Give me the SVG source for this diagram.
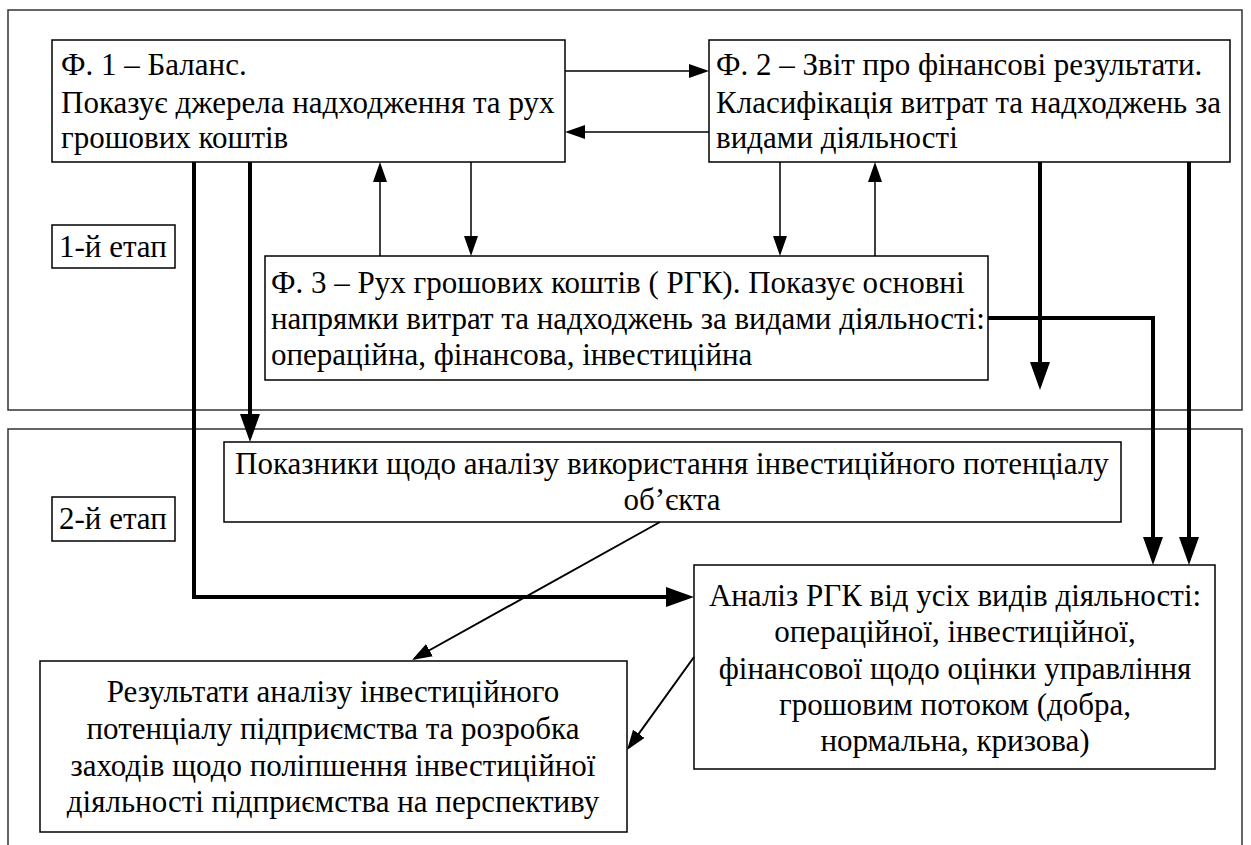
<svg xmlns="http://www.w3.org/2000/svg" width="1251" height="845" viewBox="0 0 1251 845">
<style>
text{font-family:'Liberation Serif','Times New Roman',serif;font-size:31px;fill:#000}
.c{text-anchor:middle}
.box{fill:#fff;stroke:#000;stroke-width:1.5}
.frame{fill:none;stroke:#333;stroke-width:1.5}
.thin{fill:none;stroke:#000;stroke-width:1.5}
.diag{fill:none;stroke:#000;stroke-width:2}
.thick{fill:none;stroke:#000;stroke-width:4}
</style>
<defs>
<marker id="ah" markerUnits="userSpaceOnUse" markerWidth="20" markerHeight="14" refX="17" refY="7" orient="auto"><path d="M0,0 L20,7 L0,14 z" fill="#000"/></marker>
<marker id="ahb" markerUnits="userSpaceOnUse" markerWidth="28" markerHeight="20" refX="18" refY="10" orient="auto"><path d="M0,0 L28,10 L0,20 z" fill="#000"/></marker>
</defs>
<rect class="frame" x="8" y="10" width="1234" height="400"/>
<rect class="frame" x="8" y="429" width="1234" height="440"/>

<g id="f1"><rect class="box" x="52" y="40" width="513" height="122"/>
<text x="61" y="75">Ф. 1 – Баланс.</text>
<text x="61" y="113">Показує джерела надходження та рух</text>
<text x="61" y="148">грошових коштів</text></g>

<g id="f2"><rect class="box" x="709" y="40" width="521" height="122"/>
<text x="716" y="75">Ф. 2 – Звіт про фінансові результати.</text>
<text x="716" y="113">Класифікація витрат та надходжень за</text>
<text x="716" y="148">видами діяльності</text></g>

<g id="stage1"><rect class="box" x="52" y="225" width="123" height="43"/>
<text x="59" y="257">1-й етап</text></g>

<g id="f3"><rect class="box" x="265" y="256" width="723" height="124"/>
<text x="271" y="293">Ф. 3 – Рух грошових коштів ( РГК). Показує основні</text>
<text x="271" y="329">напрямки витрат та надходжень за видами діяльності:</text>
<text x="271" y="365">операційна, фінансова, інвестиційна</text></g>

<g id="pokaznyky"><rect class="box" x="224" y="442" width="897" height="80"/>
<text class="c" x="672" y="474">Показники щодо аналізу використання інвестиційного потенціалу</text>
<text class="c" x="672" y="510">об’єкта</text></g>

<g id="stage2"><rect class="box" x="52" y="497" width="123" height="44"/>
<text x="59" y="529">2-й етап</text></g>

<g id="analysis"><rect class="box" x="694" y="565" width="521" height="204"/>
<text class="c" x="955" y="606">Аналіз РГК від усіх видів діяльності:</text>
<text class="c" x="955" y="642">операційної, інвестиційної,</text>
<text class="c" x="955" y="679">фінансової щодо оцінки управління</text>
<text class="c" x="955" y="715">грошовим потоком (добра,</text>
<text class="c" x="955" y="751">нормальна, кризова)</text></g>

<g id="results"><rect class="box" x="40" y="661" width="587" height="171"/>
<text class="c" x="333" y="702">Результати аналізу інвестиційного</text>
<text class="c" x="333" y="739">потенціалу підприємства та розробка</text>
<text class="c" x="333" y="776">заходів щодо поліпшення інвестиційної</text>
<text class="c" x="333" y="812">діяльності підприємства на перспективу</text></g>

<g id="connectors">
<path class="thin" d="M565,71 H706" marker-end="url(#ah)"/>
<path class="thin" d="M709,132 H568" marker-end="url(#ah)"/>
<path class="thin" d="M380,256 V165" marker-end="url(#ah)"/>
<path class="thin" d="M471,162 V253" marker-end="url(#ah)"/>
<path class="thin" d="M780,162 V253" marker-end="url(#ah)"/>
<path class="thin" d="M875,256 V165" marker-end="url(#ah)"/>
<path class="thick" d="M250,162 V432" marker-end="url(#ahb)"/>
<path class="thick" d="M194,162 V597 H684" marker-end="url(#ahb)"/>
<path class="thick" d="M1040,162 V380" marker-end="url(#ahb)"/>
<path class="thick" d="M1189,162 V555" marker-end="url(#ahb)"/>
<path class="thick" d="M988,318 H1153 V555" marker-end="url(#ahb)"/>
<path class="diag" d="M660,522 L414.6,658.5" marker-end="url(#ah)"/>
<path class="diag" d="M694,657 L628.8,747.6" marker-end="url(#ah)"/>
</g>
</svg>
